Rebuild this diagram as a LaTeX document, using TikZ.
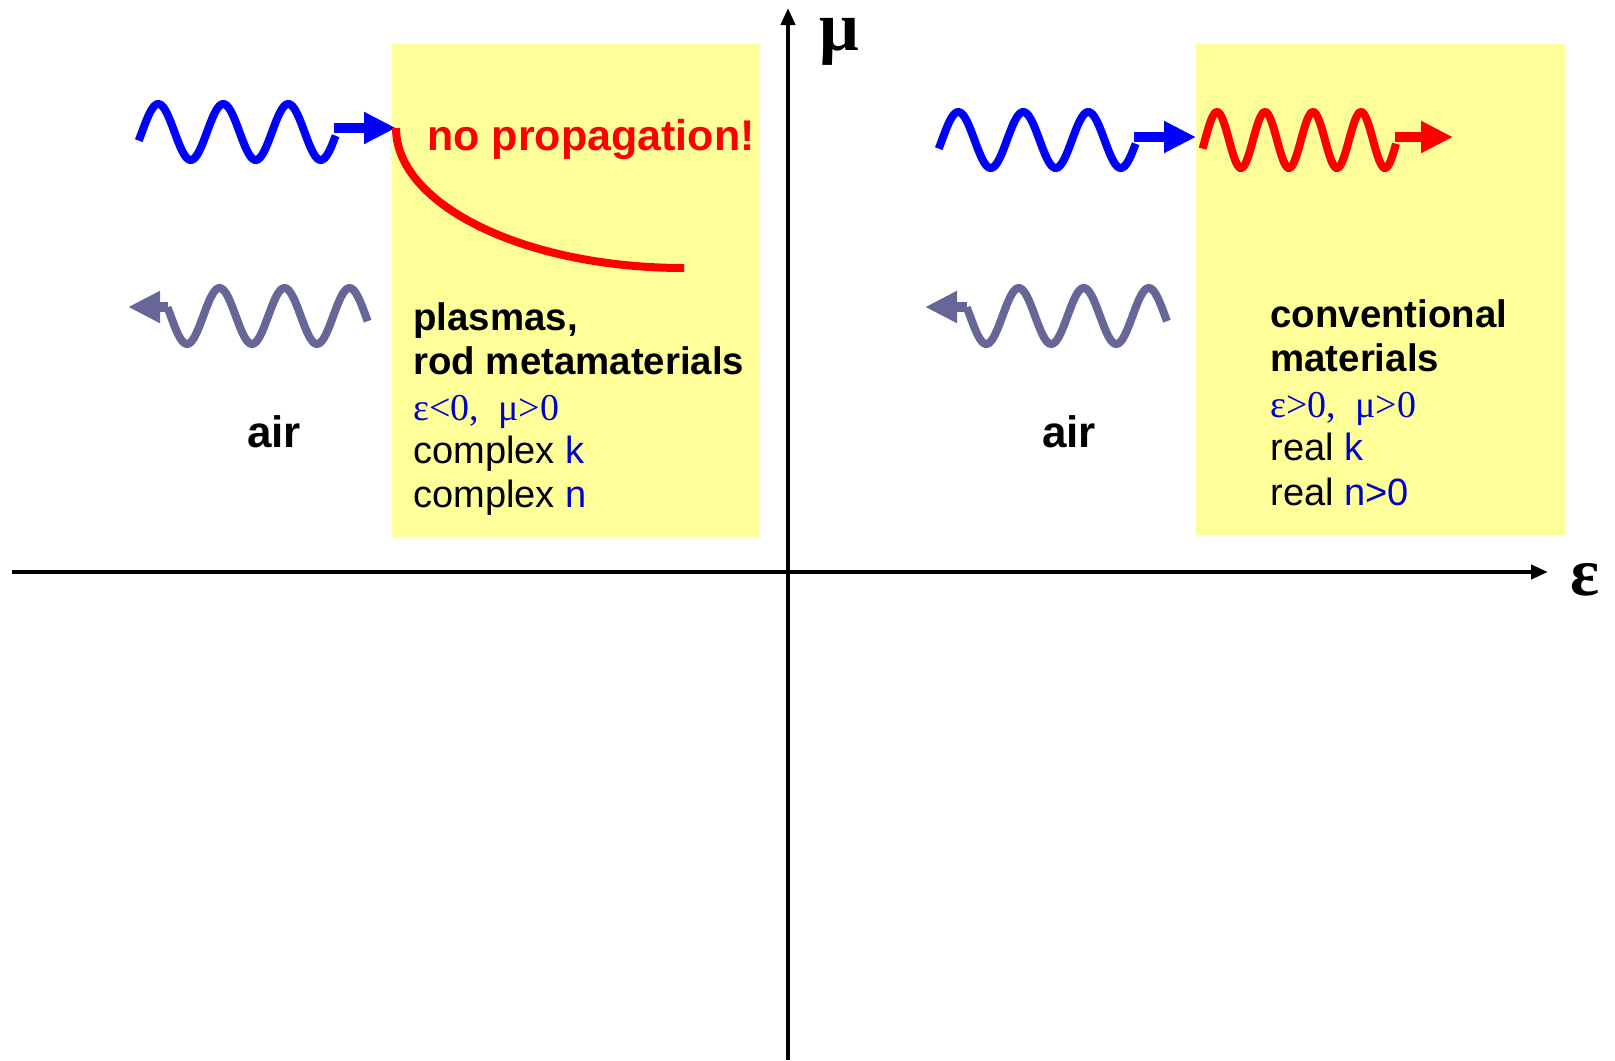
\documentclass[tikz,border=0pt]{standalone}
\usepackage{fontspec}
\setmainfont{Liberation Sans}
\newfontfamily\tms{Liberation Serif}
\usetikzlibrary{arrows.meta}

\definecolor{padyellow}{RGB}{255,255,153}
\definecolor{wavegray}{RGB}{102,102,153}
\definecolor{txtblue}{RGB}{0,0,204}

\begin{document}
\begin{tikzpicture}[x=0.5pt,y=-0.5pt,
  wave/.style={line width=4pt},
  shaft/.style={line width=5pt,-{Triangle[length=16pt,width=15pt]}},
  axis/.style={line width=2pt,-{Triangle[length=8.5pt,width=7pt]}},
  axlbl/.style={anchor=base west,inner sep=0pt,text height=17pt,text depth=8pt,font=\tms\bfseries\fontsize{34}{40}\selectfont},
  txt/.style={anchor=base west,inner sep=0pt,font=\fontsize{19}{22}\selectfont},
  boldtxt/.style={txt,font=\bfseries\fontsize{19.2}{22}\selectfont},
  symtxt/.style={txt,text=txtblue,font=\tms\fontsize{19}{22}\selectfont},
  big/.style={anchor=base,inner sep=0pt,font=\bfseries\fontsize{22}{26}\selectfont}]
  \useasboundingbox (0,0) rectangle (1615,1060);
  % the two media
  \fill[padyellow] (392,44) rectangle (760,537);
  \fill[padyellow] (1196,44) rectangle (1565,535);
  % axes
  \coordinate (epsend) at (1548,572); \coordinate (muend) at (788,8);
  \draw[axis] (12,572) -- (epsend);
  \draw[axis] (788,1060) -- (muend);
  \node[axlbl,font=\tms\bfseries\fontsize{35}{40}\selectfont] (mu) at (819,50) {μ};
  \node[axlbl] (eps) at (1570,595) {ε};

  % left quadrant: incident, reflected, evanescent
  \draw[wave,blue] plot[domain=-0.05:2.98,samples=120] ({142+65*\x},{132-28*sin(360*\x)});
  \coordinate (inL) at (396,128);
  \draw[shaft,blue] (334,128) -- (inL);
  \draw[wave,red] (inL) .. controls (396,205) and (525,268) .. (684,268);
  \draw[wave,wavegray] plot[domain=-0.05:3.03,samples=120] ({170.75+65*\x},{316+28*sin(360*\x)});
  \coordinate (outL) at (128,307);
  \draw[shaft,wavegray] (168,307) -- (outL);
  \node[big,red,anchor=base west,font=\bfseries\fontsize{21.5}{26}\selectfont] (noprop) at (427,150) {no propagation!};
  \node[big] (airL) at (274,447) {air};
  \node[boldtxt] (plasma) at (413,330) {plasmas,};
  \node[boldtxt] (rodmeta) at (413,374) {rod metamaterials};
  \node[symtxt] (signL) at (413,420) {ε<0,\ \ μ>0};
  \node[txt] (kL) at (413,463) {complex \textcolor{txtblue}{k}};
  \node[txt] (nL) at (413,507) {complex \textcolor{txtblue}{n}};

  % right quadrant: incident, reflected, transmitted
  \draw[wave,blue] plot[domain=-0.05:2.98,samples=120] ({942+65*\x},{140-28*sin(360*\x)});
  \coordinate (inR) at (1196,137);
  \draw[shaft,blue] (1134,137) -- (inR);
  \draw[wave,red] plot[domain=-0.05:3.98,samples=150] ({1205+48*\x},{140-28*sin(360*\x)});
  \coordinate (trR) at (1453,137);
  \draw[shaft,red] (1395,137) -- (trR);
  \draw[wave,wavegray] plot[domain=-0.05:3.03,samples=120] ({970+65*\x},{316+28*sin(360*\x)});
  \coordinate (outR) at (925,307);
  \draw[shaft,wavegray] (967,307) -- (outR);
  \node[big] (airR) at (1069,447) {air};
  \node[boldtxt] (conv) at (1270,327) {conventional};
  \node[boldtxt] (mater) at (1270,371) {materials};
  \node[symtxt] (signR) at (1270,417) {ε>0,\ \ μ>0};
  \node[txt] (kR) at (1270,460) {real \textcolor{txtblue}{k}};
  \node[txt] (nR) at (1270,505) {real \textcolor{txtblue}{n>0}};
\end{tikzpicture}
\end{document}
